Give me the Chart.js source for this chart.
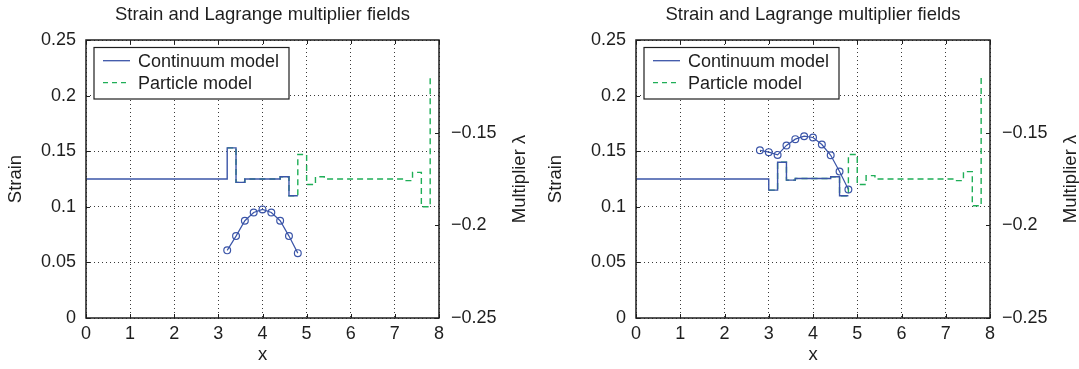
<!DOCTYPE html>
<html><head><meta charset="utf-8">
<script src="https://cdn.jsdelivr.net/npm/chart.js@4.4.1/dist/chart.umd.min.js"></script>
<style>
html,body{margin:0;padding:0;width:1079px;height:369px;overflow:hidden;background:#fff;}
#w1{position:absolute;left:0;top:0;width:540px;height:369px;}
#w2{position:absolute;left:540px;top:0;width:560px;height:369px;}
</style></head><body>
<div id="w1"><canvas id="c1" width="540" height="369"></canvas></div>
<div id="w2"><canvas id="c2" width="560" height="369"></canvas></div>
<script>
const titleText = 'Strain and Lagrange multiplier fields';
const xTitle = 'x';
const yTitle = 'Strain';
const y1Title = 'Multiplier \u03bb';
const legendLabels = ['Continuum model', 'Particle model'];
const xTicks = [0, 1, 2, 3, 4, 5, 6, 7, 8];
const strainTicks = [0, 0.05, 0.1, 0.15, 0.2, 0.25];
const lambdaTicks = [-0.25, -0.2, -0.15];

// left panel
const contXA = [0, 3.2, 3.4, 3.6, 3.8, 4.0, 4.2, 4.4, 4.6, 4.8];
const contStrainA = [0.125, 0.153, 0.122, 0.125, 0.125, 0.125, 0.125, 0.127, 0.110, 0.110];
const partXA = [3.2, 3.4, 3.6, 3.8, 4.0, 4.2, 4.4, 4.6, 4.8, 5.0, 5.2, 5.4, 5.6, 5.8, 6.0, 6.2, 6.4, 6.6, 6.8, 7.0, 7.2, 7.4, 7.6, 7.8];
const partStrainA = [0.153, 0.122, 0.125, 0.125, 0.125, 0.125, 0.127, 0.110, 0.147, 0.120, 0.127, 0.125, 0.125, 0.125, 0.125, 0.125, 0.125, 0.125, 0.125, 0.125, 0.1235, 0.131, 0.100, 0.218];
const lamXA = [3.2, 3.4, 3.6, 3.8, 4.0, 4.2, 4.4, 4.6, 4.8];
const lamA = [-0.2135, -0.2058, -0.1975, -0.1931, -0.1914, -0.1931, -0.1975, -0.2058, -0.215];

// right panel
const contXB = [0, 3.0, 3.2, 3.4, 3.6, 3.8, 4.0, 4.2, 4.4, 4.6, 4.8];
const contStrainB = [0.125, 0.115, 0.140, 0.124, 0.1255, 0.1255, 0.1255, 0.1255, 0.127, 0.110, 0.110];
const partXB = [3.0, 3.2, 3.4, 3.6, 3.8, 4.0, 4.2, 4.4, 4.6, 4.8, 5.0, 5.2, 5.4, 5.6, 5.8, 6.0, 6.2, 6.4, 6.6, 6.8, 7.0, 7.2, 7.4, 7.6, 7.8];
const partStrainB = [0.115, 0.140, 0.124, 0.1255, 0.1255, 0.1255, 0.1255, 0.127, 0.110, 0.147, 0.120, 0.128, 0.125, 0.125, 0.125, 0.125, 0.125, 0.125, 0.125, 0.125, 0.125, 0.1235, 0.1316, 0.101, 0.217];
const lamXB = [2.8, 3.0, 3.2, 3.4, 3.6, 3.8, 4.0, 4.2, 4.4, 4.6, 4.8];
const lamB = [-0.1595, -0.1605, -0.162, -0.1569, -0.1535, -0.1519, -0.1526, -0.1564, -0.1622, -0.171, -0.1807];

const BLUE = '#3b55a8';
const GREEN = '#1fae57';
const INK = '#1e1e1e';
const FONT = "'Liberation Sans', Arial, Helvetica, sans-serif";
Chart.defaults.font.family = FONT;
Chart.defaults.color = INK;

const zip = (xs, ys) => xs.map((x, i) => ({x: x, y: ys[i]}));
const fmtMinus = v => (v < 0 ? '\u2212' : '') + String(Math.abs(+v.toFixed(3)));

function panelPlugin(geo) {
  return {
    id: 'panel',
    afterDraw(chart) {
      const {ctx, chartArea: a, scales} = chart;
      ctx.save();
      ctx.setLineDash([]);
      ctx.strokeStyle = INK;
      ctx.lineWidth = 1;
      ctx.beginPath();
      xTicks.forEach(v => {
        const px = Math.round(scales.x.getPixelForValue(v)) + 0.5;
        ctx.moveTo(px, a.bottom); ctx.lineTo(px, a.bottom - 4);
        ctx.moveTo(px, a.top); ctx.lineTo(px, a.top + 4);
      });
      strainTicks.forEach(v => {
        const py = Math.round(scales.y.getPixelForValue(v)) + 0.5;
        ctx.moveTo(a.left, py); ctx.lineTo(a.left + 4, py);
      });
      lambdaTicks.forEach(v => {
        const py = Math.round(scales.y1.getPixelForValue(v)) + 0.5;
        ctx.moveTo(a.right, py); ctx.lineTo(a.right - 4, py);
      });
      ctx.stroke();
      ctx.lineWidth = 1.5;
      ctx.strokeRect(a.left, a.top, a.right - a.left, a.bottom - a.top);

      // legend
      const bx = a.left + 8, by = a.top + 7.5, bw = 195, bh = 51.5;
      ctx.fillStyle = '#fff';
      ctx.fillRect(bx, by, bw, bh);
      ctx.lineWidth = 1.2;
      ctx.strokeStyle = INK;
      ctx.strokeRect(bx, by, bw, bh);
      const rows = [a.top + 20.7, a.top + 42.7];
      ctx.lineWidth = 1.3;
      ctx.strokeStyle = BLUE;
      ctx.beginPath(); ctx.moveTo(a.left + 17, rows[0]); ctx.lineTo(a.left + 44, rows[0]); ctx.stroke();
      ctx.strokeStyle = GREEN;
      ctx.setLineDash([5, 4]);
      ctx.beginPath(); ctx.moveTo(a.left + 17, rows[1]); ctx.lineTo(a.left + 44, rows[1]); ctx.stroke();
      ctx.setLineDash([]);
      ctx.fillStyle = INK;
      ctx.font = '18px ' + FONT;
      ctx.textAlign = 'left';
      ctx.textBaseline = 'middle';
      ctx.fillText(legendLabels[0], a.left + 52, rows[0] + 1);
      ctx.fillText(legendLabels[1], a.left + 52, rows[1] + 1);

      // right axis title (reads bottom to top)
      ctx.save();
      ctx.translate(geo.rtX, (a.top + a.bottom) / 2);
      ctx.rotate(-Math.PI / 2);
      ctx.textAlign = 'center';
      ctx.textBaseline = 'middle';
      ctx.font = '18.5px ' + FONT;
      ctx.fillText(y1Title, 0, 0);
      ctx.restore();
      ctx.restore();
    }
  };
}

function makeChart(id, geo, contX, contS, partX, partS, lamX, lamV) {
  return new Chart(document.getElementById(id), {
    type: 'line',
    data: {
      datasets: [
        {label: legendLabels[0], data: zip(contX, contS), yAxisID: 'y', stepped: true,
         borderColor: BLUE, borderWidth: 1.4, pointRadius: 0, fill: false, order: 0},
        {label: 'lambda', data: zip(lamX, lamV), yAxisID: 'y1',
         borderColor: BLUE, borderWidth: 1.2, pointRadius: 3.4, pointStyle: 'circle',
         pointBackgroundColor: 'rgba(0,0,0,0)', pointBorderColor: BLUE, pointBorderWidth: 1.2,
         fill: false, tension: 0, order: 0},
        {label: legendLabels[1], data: zip(partX, partS), yAxisID: 'y', stepped: true,
         borderColor: GREEN, borderWidth: 1.4, borderDash: [6, 4], pointRadius: 0, fill: false, order: 1}
      ]
    },
    options: {
      responsive: false,
      animation: false,
      layout: {padding: 0},
      plugins: {
        legend: {display: false},
        tooltip: {enabled: false},
        title: {display: true, text: titleText, color: INK, fullSize: false,
                font: {size: 18.5, weight: 'normal', family: FONT},
                padding: {top: 4, bottom: 13.8}}
      },
      scales: {
        x: {
          type: 'linear', min: 0, max: 8,
          afterBuildTicks: s => { s.ticks = xTicks.map(v => ({value: v})); },
          afterFit: s => { s.height = 51; },
          ticks: {padding: 5, font: {size: 18}, color: INK, maxRotation: 0,
                  callback: v => String(v)},
          grid: {drawTicks: false, color: '#3a3a3a', lineWidth: 1},
          border: {display: false, dash: [1, 3]},
          title: {display: true, text: xTitle, font: {size: 18.5}, color: INK, padding: {top: 0, bottom: 3}}
        },
        y: {
          type: 'linear', position: 'left', min: 0, max: 0.25,
          afterBuildTicks: s => { s.ticks = strainTicks.map(v => ({value: v})); },
          afterFit: s => { s.width = geo.leftW; },
          ticks: {padding: 10, font: {size: 18}, color: INK, callback: v => fmtMinus(v)},
          grid: {drawTicks: false, color: '#3a3a3a', lineWidth: 1},
          border: {display: false, dash: [1, 3]},
          title: {display: true, text: yTitle, font: {size: 18.5}, color: INK, padding: {top: 5, bottom: 0}}
        },
        y1: {
          type: 'linear', position: 'right', min: -0.25, max: -0.1,
          afterBuildTicks: s => { s.ticks = lambdaTicks.map(v => ({value: v})); },
          afterFit: s => { s.width = geo.rightW; },
          ticks: {padding: 12, font: {size: 18}, color: INK, callback: v => fmtMinus(v)},
          grid: {display: false, drawTicks: false},
          border: {display: false}
        }
      }
    },
    plugins: [panelPlugin(geo)]
  });
}

makeChart('c1', {leftW: 86, rightW: 101, rtX: 520}, contXA, contStrainA, partXA, partStrainA, lamXA, lamA);
makeChart('c2', {leftW: 96, rightW: 110, rtX: 531}, contXB, contStrainB, partXB, partStrainB, lamXB, lamB);
</script>
</body></html>
